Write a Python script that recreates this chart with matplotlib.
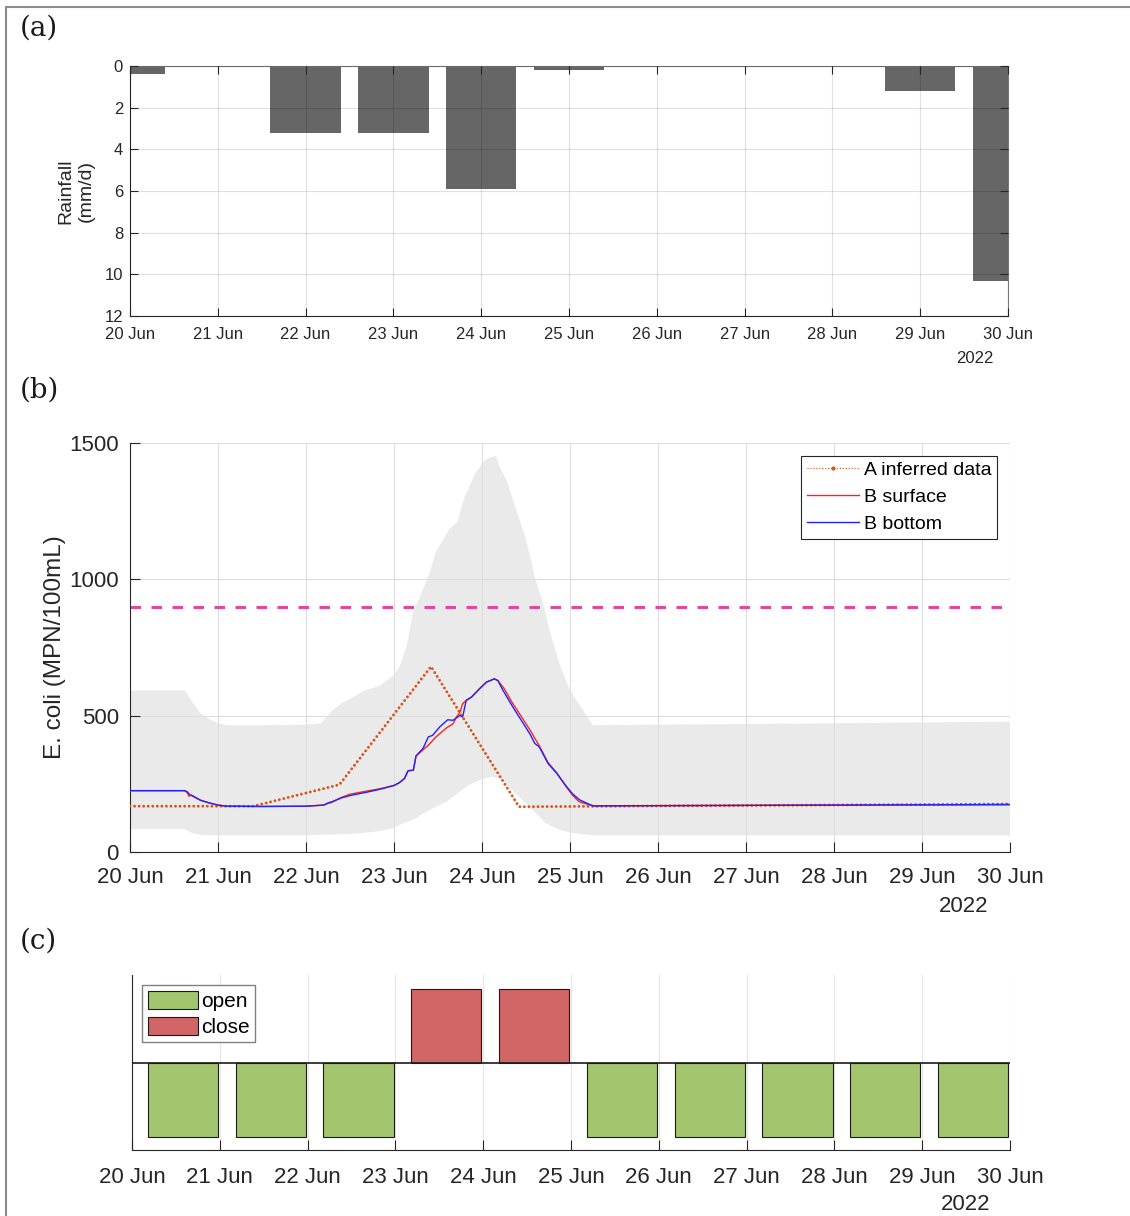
import matplotlib
matplotlib.use('Agg')
import matplotlib.pyplot as plt
from matplotlib.lines import Line2D
from matplotlib.patches import Patch, Rectangle
import numpy as np

plt.rcParams['font.family'] = ['Liberation Sans', 'DejaVu Sans']

W, H = 1130, 1216

# ---------------- data ----------------
day_labels = ['20 Jun', '21 Jun', '22 Jun', '23 Jun', '24 Jun', '25 Jun',
              '26 Jun', '27 Jun', '28 Jun', '29 Jun', '30 Jun']
year_label = '2022'

# (a) daily rainfall (day offset from 20 Jun)
rain_day = [0, 1, 2, 3, 4, 5, 6, 7, 8, 9, 10]
rain_mm = [0.4, 0.0, 3.2, 3.2, 5.9, 0.2, 0.0, 0.0, 0.0, 1.2, 10.3]

# (b) uncertainty band
band_hi_t = [0, 0.62, 0.68, 0.72, 0.8, 0.9, 1.0, 1.1, 1.5, 2.0, 2.17, 2.3, 2.4, 2.55,
             2.65, 2.84, 3.0, 3.06, 3.14, 3.22, 3.3, 3.4, 3.47, 3.55, 3.63, 3.72, 3.8,
             3.92, 4.04, 4.12, 4.16, 4.2, 4.28, 4.37, 4.5, 4.61, 4.68, 4.77, 4.88, 5.0,
             5.1, 5.26, 6, 8, 10]
band_hi = [592, 592, 565, 545, 510, 487, 472, 465, 465, 467, 472, 520, 545, 570,
           590, 610, 650, 678, 750, 884, 940, 1020, 1097, 1140, 1186, 1210, 1300,
           1388, 1439, 1450, 1452, 1413, 1363, 1274, 1148, 996, 930, 811, 690, 592,
           544, 465, 467, 472, 478]
band_lo_t = [0, 0.62, 0.7, 0.8, 1.0, 2.0, 2.5, 2.8, 3.0, 3.1, 3.22, 3.3, 3.41, 3.6,
             3.75, 3.82, 3.97, 4.12, 4.2, 4.3, 4.42, 4.53, 4.65, 4.72, 4.88, 5.0,
             5.13, 5.28, 10]
band_lo = [84, 84, 70, 63, 61, 61, 66, 75, 88, 105, 118, 135, 155, 185,
           222, 240, 264, 276, 270, 240, 203, 167, 130, 106, 81, 72,
           65, 61, 61]

# (b) A inferred data
inf_t = [0, 1.4, 2.38, 3.42, 4.42, 10]
inf_val = [168, 168, 247, 680, 166, 176]

# (b) B bottom
bot_t = [0, 0.62, 0.65, 0.68, 0.72, 0.8, 0.9, 1.0, 1.1, 1.5, 2.0, 2.2, 2.25, 2.3,
         2.4, 2.5, 2.7, 2.84, 3.0, 3.06, 3.12, 3.16, 3.22, 3.25, 3.33, 3.39, 3.44,
         3.52, 3.61, 3.67, 3.75, 3.78, 3.82, 3.88, 3.97, 4.05, 4.14, 4.18, 4.24,
         4.35, 4.47, 4.55, 4.6, 4.65, 4.75, 4.85, 4.96, 5.03, 5.11, 5.26, 6, 8, 10]
bot_val = [225, 225, 221, 210, 205, 190, 180, 172, 168, 167, 168, 172, 180, 185,
           198, 207, 220, 230, 244, 254, 270, 298, 300, 352, 380, 422, 428,
           459, 485, 483, 501, 495, 556, 568, 598, 623, 635, 629, 592,
           532, 471, 430, 398, 386, 325, 288, 240, 213, 191, 169, 170, 172, 174]

# (b) B surface
sur_t = [0, 0.62, 0.65, 0.67, 0.7, 0.72, 0.8, 0.9, 1.0, 1.1, 1.5, 2.0, 2.2, 2.25,
         2.3, 2.4, 2.5, 2.7, 2.84, 3.0, 3.06, 3.12, 3.16, 3.22, 3.25, 3.33, 3.41,
         3.47, 3.52, 3.6, 3.67, 3.71, 3.75, 3.78, 3.82, 3.88, 3.97, 4.05, 4.14,
         4.18, 4.25, 4.35, 4.4, 4.48, 4.55, 4.58, 4.65, 4.75, 4.85, 4.96, 5.03,
         5.1, 5.2, 5.28, 6, 8, 10]
sur_val = [225, 225, 218, 205, 208, 203, 190, 180, 172, 168, 167, 168, 172, 178,
           183, 200, 212, 224, 232, 244, 254, 270, 298, 300, 352, 375, 398,
           420, 434, 456, 470, 495, 513, 544, 556, 568, 598, 623, 635,
           629, 600, 544, 520, 480, 445, 428, 390, 328, 290, 238, 208,
           185, 175, 169, 170, 172, 174]

threshold = 900

# (c) beach status per day
status_day = [0, 1, 2, 3, 4, 5, 6, 7, 8, 9]
status = ['open', 'open', 'open', 'close', 'close', 'open', 'open', 'open', 'open', 'open']

# ---------------- styles ----------------
AX = '#262626'
GRID = '#dedede'
c_open = '#A2C56E'
c_close = '#D26666'

fig = plt.figure(figsize=(W / 100, H / 100), dpi=100)

def frac(left, top, right, bottom):
    return [left / W, 1 - bottom / H, (right - left) / W, (bottom - top) / H]

def date_axis(ax, labelsize, pad, yx, yy):
    ax.set_xlim(0, 10)
    ax.set_xticks(range(11))
    ax.set_xticklabels(day_labels)
    ax.tick_params(axis='x', labelsize=labelsize, pad=pad, colors=AX)
    ax.text(yx, yy, year_label, transform=ax.transAxes, ha='center',
            va='center', fontsize=labelsize, color=AX)

# ---------- (a) ----------
ax1 = fig.add_axes(frac(130, 66, 1008, 316))
ax1.bar(rain_day, rain_mm, width=0.8, color='#666666', zorder=2)
ax1.set_ylim(12, 0)
ax1.set_yticks(range(0, 13, 2))
date_axis(ax1, 12, 8, 0.962, -0.168)
ax1.tick_params(direction='in', top=True, right=True, length=6, width=0.8, colors=AX)
ax1.tick_params(axis='y', labelsize=12, pad=5)
ax1.grid(True, color='black', alpha=0.12, lw=0.8, zorder=3)
ax1.set_axisbelow(False)
for s in ['left', 'bottom']:
    ax1.spines[s].set_color(AX)
for s in ['top', 'right']:
    ax1.spines[s].set_color('#7a7a7a')
ax1.set_ylabel('Rainfall\n(mm/d)', fontsize=14, color=AX, labelpad=7, linespacing=1.25)

# ---------- (b) ----------
ax2 = fig.add_axes(frac(130, 443, 1010, 852))
ax2.fill(np.concatenate([band_hi_t, band_lo_t[::-1]]),
         np.concatenate([band_hi, band_lo[::-1]]),
         color='#d6d6d6', alpha=0.5, lw=0, zorder=1)
ax2.axhline(threshold, color='#E8409F', lw=2.1, dashes=(3.6, 3.6), zorder=2)
ax2.plot(inf_t, inf_val, color='#D95319', lw=2.1, linestyle=(0, (0.01, 1.55)),
         dash_capstyle='round', zorder=3)
ax2.plot(sur_t, sur_val, color='#FF2222', lw=1.0, zorder=4)
ax2.plot(bot_t, bot_val, color='#2222FF', lw=1.0, zorder=5)
ax2.set_ylim(0, 1500)
ax2.set_yticks([0, 500, 1000, 1500])
date_axis(ax2, 16, 11, 0.947, -0.133)
ax2.tick_params(direction='in', length=7, width=0.8, colors=AX)
ax2.tick_params(axis='y', labelsize=16, pad=8)
ax2.grid(True, color=GRID, lw=0.8, zorder=0)
for s in ['top', 'right']:
    ax2.spines[s].set_visible(False)
for s in ['left', 'bottom']:
    ax2.spines[s].set_color(AX)
ax2.set_ylabel('E. coli (MPN/100mL)', fontsize=17.5, color=AX, labelpad=2)
h_inf = Line2D([], [], color='#D95319', lw=0.8, linestyle=':', marker='.', markersize=4)
h_sur = Line2D([], [], color='#FF2222', lw=1.0)
h_bot = Line2D([], [], color='#2222FF', lw=1.0)
leg = ax2.legend([h_inf, h_sur, h_bot], ['A inferred data', 'B surface', 'B bottom'],
                 loc='upper right', fontsize=14, handlelength=2.7, handletextpad=0.25,
                 labelspacing=0.48, borderpad=0.3, borderaxespad=0.65, fancybox=False,
                 framealpha=1, edgecolor=AX)
leg.get_frame().set_linewidth(0.8)

# ---------- (c) ----------
ax3 = fig.add_axes(frac(132, 975, 1010, 1150))
heights = [1 if s == 'close' else -1 for s in status]
cols = [c_close if s == 'close' else c_open for s in status]
ax3.bar(np.array(status_day) + 0.18, heights, width=0.8, align='edge', color=cols,
        edgecolor='#1a1a1a', lw=0.8, zorder=2)
ax3.axhline(0, color='#1a1a1a', lw=1.2, zorder=3)
ax3.set_ylim(-1.18, 1.19)
ax3.set_yticks([])
date_axis(ax3, 16, 12, 0.949, -0.31)
ax3.tick_params(axis='x', direction='in', length=7, width=0.8, colors=AX)
ax3.grid(True, axis='x', color='#e6e6e6', lw=0.8, zorder=0)
ax3.set_axisbelow(True)
for s in ['top', 'right']:
    ax3.spines[s].set_visible(False)
for s in ['left', 'bottom']:
    ax3.spines[s].set_color(AX)
leg3 = ax3.legend([Patch(facecolor=c_open, edgecolor='#1a1a1a', lw=0.8),
                   Patch(facecolor=c_close, edgecolor='#1a1a1a', lw=0.8)],
                  ['open', 'close'], loc='upper left', fontsize=15, handlelength=2.4,
                  handleheight=0.95, handletextpad=0.15, labelspacing=0.3,
                  borderpad=0.25, borderaxespad=0.5, fancybox=False, framealpha=1,
                  edgecolor='#808080')
leg3.get_frame().set_linewidth(1.0)

# ---------- panel labels & border ----------
for lab, y in [('(a)', 28), ('(b)', 390), ('(c)', 941)]:
    fig.text(20 / W, 1 - y / H, lab, fontsize=20, family=['DejaVu Serif'],
             va='center', ha='left', color='#1a1a1a')
fig.add_artist(Rectangle((6 / W, -0.05), 1.2, 1 - 7 / H + 0.05, transform=fig.transFigure,
                         fill=False, ec='#8c8c8c', lw=1.5))

fig.savefig('out.png', dpi=100)
